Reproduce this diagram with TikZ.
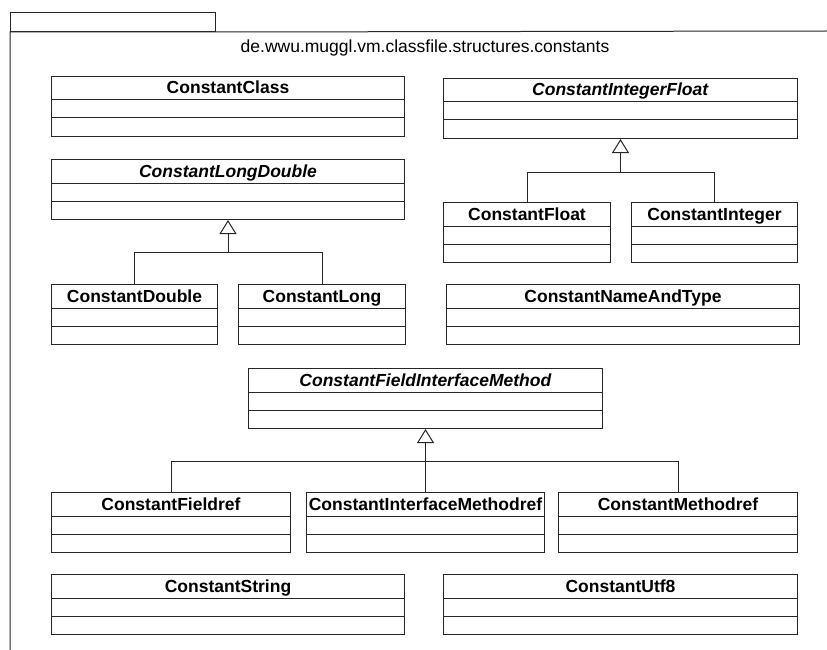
\documentclass[tikz,border=0pt]{standalone}
\usepackage{fontspec}
\setmainfont{Liberation Sans}
\usetikzlibrary{positioning,shapes.multipart,arrows.meta}
\newcommand{\umlname}[1]{\rule[-5.5pt]{0pt}{22.5pt}\textbf{#1}\nodepart{two}\rule{0pt}{17pt}\nodepart{three}\rule{0pt}{17.5pt}}
\newcommand{\umlabstract}[1]{\umlname{\textit{#1}}}

\begin{document}
\begin{tikzpicture}[x=1pt, y=-1pt, line width=1pt,
    classbox/.style={draw=black!85, rectangle split, rectangle split parts=3,
      rectangle split empty part height=17pt, rectangle split empty part depth=0pt,
      inner xsep=0pt, inner ysep=0pt, minimum width=#1, anchor=north west,
      font=\fontsize{17.5}{20}\selectfont},
    genarrow/.style={draw=black!85, -{Triangle[open, length=14pt, width=17pt]}},
    tree/.style={draw=black!85}]
  \useasboundingbox (0,0) rectangle (827,650);
  \node[draw=black!85, minimum width=205pt, minimum height=19pt, inner sep=0pt, anchor=north west] (pkgtab) at (10,12) {};
  \draw[black!85] (827,31) -- (pkgtab.south east) -- (pkgtab.south west) -- (10,650);
  \node[anchor=base, font=\fontsize{17.5}{20}\selectfont] (pkgname) at (425,53) {de.wwu.muggl.vm.classfile.structures.constants};

  \node[classbox=353pt] (cclass) at (51,76) {\umlname{ConstantClass}};
  \node[classbox=354pt] (cintflt) at (443,78) {\umlabstract{ConstantIntegerFloat}};
  \node[classbox=353pt] (clngdbl) at (51,159) {\umlabstract{ConstantLongDouble}};
  \node[classbox=166pt] (cdouble) at (51,284) {\umlname{ConstantDouble}};
  \node[classbox=167pt, right=20pt of cdouble] (clong) {\umlname{ConstantLong}};
  \node[classbox=167pt] (cfloat) at (443,202) {\umlname{ConstantFloat}};
  \node[classbox=166pt, right=20pt of cfloat] (cinteger) {\umlname{ConstantInteger}};
  \node[classbox=353pt] (cnametype) at (446,284) {\umlname{ConstantNameAndType}};
  \node[classbox=354pt] (cfim) at (248,368) {\umlabstract{ConstantFieldInterfaceMethod}};
  \node[classbox=239pt] (cfieldref) at (51,492) {\umlname{ConstantFieldref}};
  \node[classbox=238pt, right=15pt of cfieldref] (cimethref) {\umlname{ConstantInterfaceMethodref}};
  \node[classbox=239pt, right=13pt of cimethref] (cmethref) {\umlname{ConstantMethodref}};
  \node[classbox=353pt] (cstring) at (51,574) {\umlname{ConstantString}};
  \node[classbox=354pt] (cutf) at (443,574) {\umlname{ConstantUtf8}};

  \coordinate (ldbar) at ([yshift=-32pt]clngdbl.south);
  \coordinate (ifbar) at ([yshift=-33pt]cintflt.south);
  \coordinate (fimbar) at ([yshift=-32pt]cfim.south);
  \draw[genarrow] (ldbar) -- (clngdbl.south);
  \draw[tree] (cdouble.north) |- (ldbar) (clong.north) |- (ldbar);
  \draw[genarrow] (ifbar) -- (cintflt.south);
  \draw[tree] (cfloat.north) |- (ifbar) (cinteger.north) |- (ifbar);
  \draw[genarrow] (fimbar) -- (cfim.south);
  \draw[tree] (cfieldref.north) |- (fimbar) (cmethref.north) |- (fimbar) (cimethref.north) |- (fimbar);
\end{tikzpicture}
\end{document}
